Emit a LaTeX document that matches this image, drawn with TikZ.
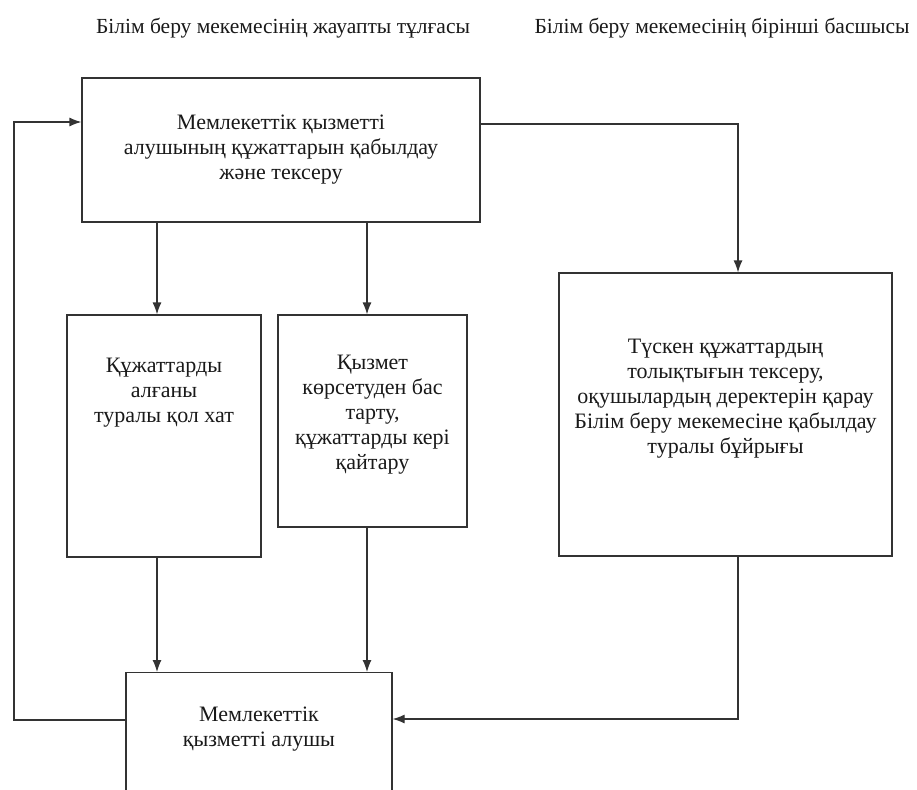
\documentclass[tikz,border=0pt]{standalone}
\usepackage{fontspec}
\setmainfont{Liberation Serif}
\usetikzlibrary{arrows.meta}

\begin{document}
\begin{tikzpicture}[x=1pt,y=-1pt,>={Latex[length=12pt,width=9pt]},
    link/.style={->,draw=black!80,line width=1.2pt},
    box/.style={draw=black!80,line width=1.2pt,rectangle,align=center,text=black!90,
      font=\fontsize{22}{25}\selectfont}]
    \clip (0,0) rectangle (917,789);

    \node[text=black!90,font=\fontsize{21.5}{24}\selectfont] (resp) at (283,28) {Білім беру мекемесінің жауапты тұлғасы};
    \node[text=black!90,font=\fontsize{21.5}{24}\selectfont] (head) at (722,28) {Білім беру мекемесінің бірінші басшысы};

    \node[box,minimum width=398,minimum height=144] (take) at (281,150)
        {Мемлекеттік қызметті\\алушының құжаттарын қабылдау\\және тексеру};
    \node[box,minimum width=194,minimum height=242,text depth=92pt] (rcpt) at (164,436)
        {Құжаттарды\\алғаны\\туралы қол хат};
    \node[box,minimum width=189,minimum height=212,text depth=18pt] (refuse) at (372.5,421)
        {Қызмет\\көрсетуден бас\\тарту,\\құжаттарды кері\\қайтару};
    \node[box,minimum width=333,minimum height=283,text depth=36pt] (check) at (725.5,414.5)
        {Түскен құжаттардың\\толықтығын тексеру,\\оқушылардың деректерін қарау\\Білім беру мекемесіне қабылдау\\туралы бұйрығы};
    \node[box,anchor=north,minimum width=266,inner ysep=34pt,text depth=90pt] (applicant) at (259,672)
        {Мемлекеттік\\қызметті алушы};

    \draw[link] (take.south -| 157,0) -- (rcpt.north -| 157,0);
    \draw[link] (take.south -| 367,0) -- (refuse.north -| 367,0);
    \draw[link] (rcpt.south -| 157,0) -- (applicant.north -| 157,0);
    \draw[link] (refuse.south -| 367,0) -- (applicant.north -| 367,0);
    \draw[link] (take.east |- 0,124) -| (check.north -| 738,0);
    \draw[link] (check.south -| 738,0) |- (applicant.east |- 0,719);
    \draw[link] (applicant.west |- 0,720) -| (14,122) -- (take.west |- 0,122);
\end{tikzpicture}
\end{document}
